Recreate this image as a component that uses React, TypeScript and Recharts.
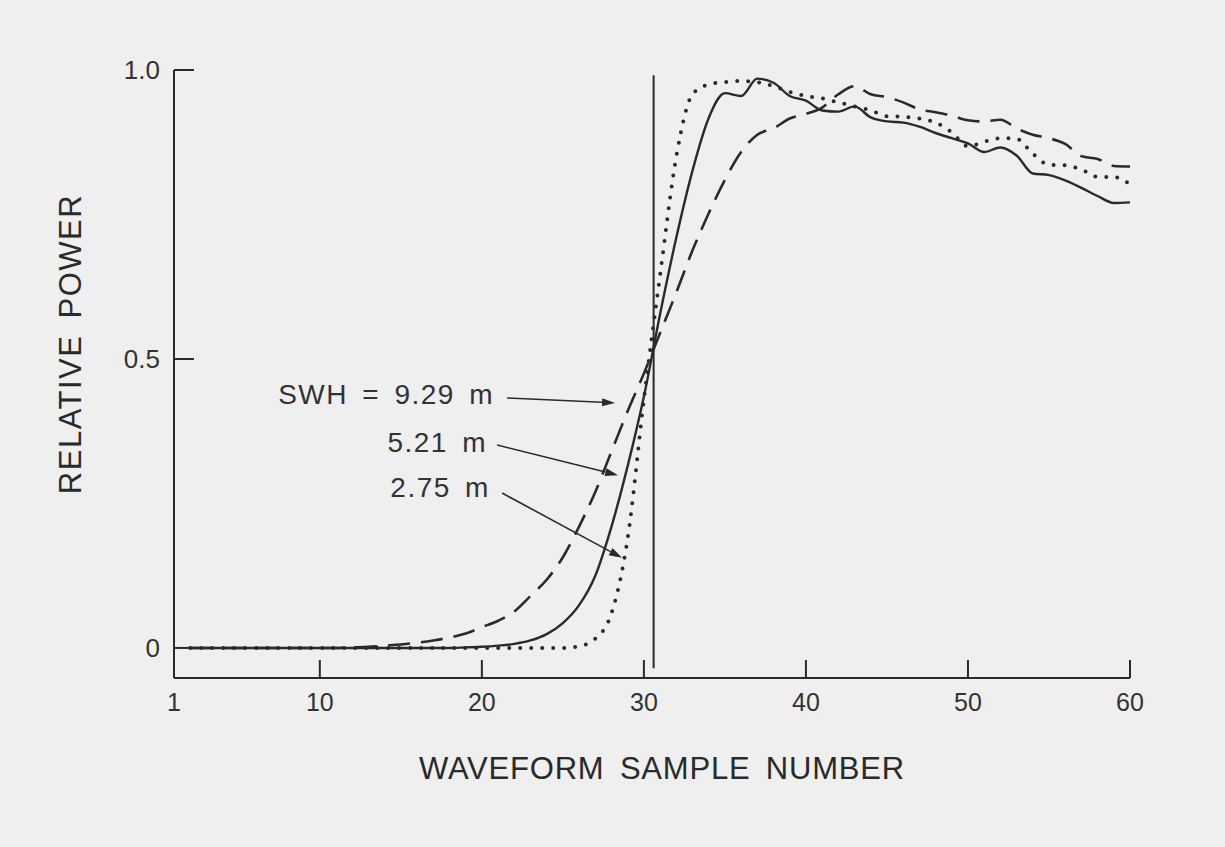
import React from 'react';
import { LineChart, Line, XAxis, YAxis, ReferenceLine, ReferenceDot } from 'recharts';

// waveform samples 2..60, relative power
const swh929 = [
  0, 0, 0, 0, 0, 0, 0, 0, 0, 0, 0.001, 0.002, 0.004, 0.006, 0.009, 0.013, 0.018, 0.025,
  0.036, 0.047, 0.063, 0.09, 0.118, 0.157, 0.21, 0.27, 0.34, 0.41, 0.475, 0.545, 0.615,
  0.688, 0.752, 0.81, 0.858, 0.888, 0.899, 0.916, 0.924, 0.935, 0.958, 0.972, 0.958,
  0.953, 0.944, 0.932, 0.927, 0.921, 0.913, 0.911, 0.914, 0.899, 0.888, 0.882, 0.872,
  0.851, 0.846, 0.834, 0.833,
];
const swh521 = [
  0, 0, 0, 0, 0, 0, 0, 0, 0, 0, 0, 0, 0, 0, 0, 0, 0, 0.001, 0.002, 0.004, 0.007, 0.013,
  0.024, 0.043, 0.074, 0.125, 0.21, 0.315, 0.435, 0.578, 0.71, 0.826, 0.917, 0.96, 0.955,
  0.985, 0.978, 0.955, 0.947, 0.93, 0.928, 0.937, 0.918, 0.911, 0.909, 0.902, 0.891,
  0.882, 0.873, 0.858, 0.866, 0.852, 0.821, 0.818, 0.809, 0.796, 0.782, 0.77, 0.771,
];
const swh275 = [
  0, 0, 0, 0, 0, 0, 0, 0, 0, 0, 0, 0, 0, 0, 0, 0, 0, 0, 0, 0, 0, 0, 0, 0, 0.003, 0.016,
  0.06, 0.19, 0.43, 0.645, 0.85, 0.958, 0.975, 0.979, 0.981, 0.979, 0.972, 0.962, 0.955,
  0.951, 0.944, 0.937, 0.93, 0.92, 0.919, 0.916, 0.909, 0.892, 0.868, 0.876, 0.882,
  0.881, 0.855, 0.836, 0.835, 0.828, 0.815, 0.815, 0.802,
];
const samples = swh929.map((_, i) => i + 2);

const xTicks = [1, 10, 20, 30, 40, 50, 60];
const yTicks = [0, 0.5, 1];
const yTickLabels = ['0', '0.5', '1.0'];

const gateSample = 30.6;

const labelTexts = ['SWH = 9.29 m', '5.21 m', '2.75 m'];
const labelAt = [
  { x: 20.75, y: 0.438 },
  { x: 20.32, y: 0.355 },
  { x: 20.5, y: 0.277 },
];
const arrowFrom = [
  { x: 21.56, y: 0.4325 },
  { x: 20.94, y: 0.351 },
  { x: 21.25, y: 0.268 },
];
const arrowTo = [
  { x: 28.22, y: 0.424 },
  { x: 28.41, y: 0.299 },
  { x: 28.65, y: 0.156 },
];

const data = samples.map((s, i) => ({
  sample: s,
  a: swh929[i],
  b: swh521[i],
  c: swh275[i],
}));

const INK = '#2a2a2a';
const FONT = '"Liberation Sans", Arial, sans-serif';

const XTick = ({ x, y, payload }: any) => (
  <g>
    <line x1={x} x2={x} y1={y - 24} y2={y - 42} stroke={INK} strokeWidth={2} />
    <text x={x} y={y} textAnchor="middle" dominantBaseline="central" fontSize={25} fontFamily={FONT} fill="#333">
      {payload.value}
    </text>
  </g>
);

const YTick = ({ x, y, payload, index }: any) => (
  <g>
    <line x1={x + 14} x2={x + 34} y1={y} y2={y} stroke={INK} strokeWidth={2} />
    <text x={x} y={y} textAnchor="end" dominantBaseline="central" fontSize={26} fontFamily={FONT} fill="#333">
      {yTickLabels[yTicks.indexOf(payload.value)] ?? yTickLabels[index]}
    </text>
  </g>
);

const XTitle = ({ viewBox }: any) => (
  <text
    x={viewBox.x + viewBox.width / 2 + 10}
    y={viewBox.y + 90}
    textAnchor="middle"
    dominantBaseline="central"
    fontSize={31}
    fontFamily={FONT}
    fill="#2a2a2a"
    letterSpacing={0.8}
    wordSpacing={6}
  >
    WAVEFORM SAMPLE NUMBER
  </text>
);

const YTitle = ({ viewBox }: any) => {
  const cx = viewBox.x + 30;
  const cy = viewBox.y + viewBox.height / 2 - 30;
  return (
    <text
      x={cx}
      y={cy}
      transform={`rotate(-90 ${cx} ${cy})`}
      textAnchor="middle"
      dominantBaseline="central"
      fontSize={31}
      fontFamily={FONT}
      fill="#2a2a2a"
      letterSpacing={1.5}
      wordSpacing={6}
    >
      RELATIVE POWER
    </text>
  );
};

const Arrow = (p: any) => {
  const { x1, y1, x2, y2 } = p;
  const ang = Math.atan2(y2 - y1, x2 - x1);
  const L = 13;
  const W = 4;
  const bx = x2 - L * Math.cos(ang);
  const by = y2 - L * Math.sin(ang);
  const nx = -Math.sin(ang) * W;
  const ny = Math.cos(ang) * W;
  return (
    <g>
      <line x1={x1} y1={y1} x2={bx} y2={by} stroke={INK} strokeWidth={1.6} />
      <polygon points={`${x2},${y2} ${bx + nx},${by + ny} ${bx - nx},${by - ny}`} fill={INK} />
    </g>
  );
};

const App: React.FC = () => {
  return (
    <div style={{ position: 'absolute', left: 0, top: 0, width: 1225, height: 847, background: '#efefef' }}>
      <LineChart
        width={1225}
        height={847}
        data={data}
        margin={{ top: 70, right: 95, bottom: 0, left: 40 }}
      >
        <XAxis
          dataKey="sample"
          type="number"
          domain={[1, 60]}
          ticks={xTicks}
          allowDataOverflow
          height={169}
          tickSize={0}
          tickMargin={24}
          tick={<XTick />}
          axisLine={{ stroke: INK, strokeWidth: 2 }}
          tickLine={false}
          label={XTitle}
        />
        <YAxis
          type="number"
          domain={[-0.052, 1]}
          ticks={yTicks}
          allowDataOverflow
          width={134}
          tickSize={0}
          tickMargin={14}
          tick={<YTick />}
          axisLine={{ stroke: INK, strokeWidth: 2 }}
          tickLine={false}
          label={YTitle}
        />
        <ReferenceLine
          segment={[{ x: gateSample, y: -0.035 }, { x: gateSample, y: 0.991 }]}
          stroke={INK}
          strokeWidth={2}
          ifOverflow="visible"
        />
        <Line
          type="monotone"
          dataKey="a"
          stroke={INK}
          strokeWidth={2.6}
          strokeDasharray="22 11"
          dot={false}
          activeDot={false}
          isAnimationActive={false}
        />
        <Line
          type="monotone"
          dataKey="b"
          stroke={INK}
          strokeWidth={2.4}
          dot={false}
          activeDot={false}
          isAnimationActive={false}
        />
        <Line
          type="monotone"
          dataKey="c"
          stroke={INK}
          strokeWidth={4}
          strokeLinecap="round"
          strokeDasharray="0 11"
          dot={false}
          activeDot={false}
          isAnimationActive={false}
        />
        {arrowFrom.map((f, i) => (
          <ReferenceLine key={`arrow-${i}`} segment={[f, arrowTo[i]]} shape={Arrow} ifOverflow="visible" />
        ))}
        {labelAt.map((p, i) => (
          <ReferenceDot
            key={`lbl-${i}`}
            x={p.x}
            y={p.y}
            r={0}
            ifOverflow="visible"
            shape={(s: any) => (
              <text
                x={s.cx}
                y={s.cy}
                textAnchor="end"
                dominantBaseline="central"
                fontSize={28}
                fontFamily={FONT}
                fill="#333"
                letterSpacing={1.5}
                wordSpacing={5}
              >
                {labelTexts[i]}
              </text>
            )}
          />
        ))}
      </LineChart>
    </div>
  );
};

export default App;
